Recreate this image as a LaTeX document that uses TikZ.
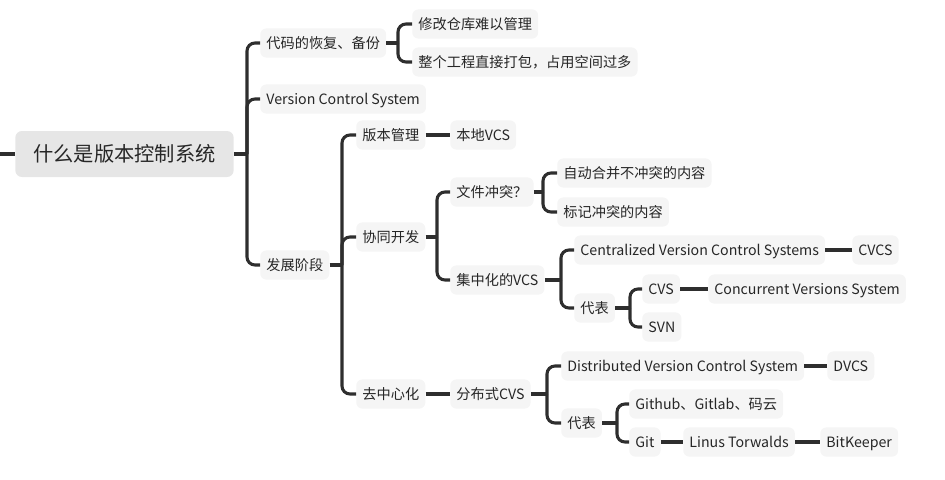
\documentclass[tikz,border=0pt]{standalone}
\usepackage{fontspec}
\setmainfont{Noto Sans CJK SC}
\definecolor{boxfill}{HTML}{F5F5F5}
\definecolor{rootfill}{HTML}{E6E6E6}
\definecolor{linecol}{HTML}{2E2E2E}
\definecolor{txtcol}{HTML}{262626}
\begin{document}
\begin{tikzpicture}[x=0.75pt,y=-0.75pt,
  box/.style={anchor=west,fill=boxfill,rounded corners=4.5pt,inner xsep=4.6pt,inner ysep=0pt,
    text height=9.4pt,text depth=1.9pt,
    minimum height=21.9pt,text=txtcol,font=\fontsize{10.65pt}{12pt}\selectfont},
  rootbox/.style={anchor=west,fill=rootfill,rounded corners=5pt,inner xsep=13.5pt,inner ysep=0pt,
    text height=13.2pt,text depth=2.6pt,
    minimum height=34.5pt,text=txtcol,font=\fontsize{15.2pt}{17pt}\selectfont},
  conn/.style={draw=linecol,line width=2.3pt,rounded corners=6pt}]
\useasboundingbox (0,0) rectangle (945,479);
% nodes
\node[rootbox] (root) at (15,154) {什么是版本控制系统};
\node[box] (n1) at (260,43) {代码的恢复、备份};
\node[box] (n2) at (260,99) {Version Control System};
\node[box] (n3) at (260,265) {发展阶段};
\node[box] (n11) at (412,24) {修改仓库难以管理};
\node[box] (n12) at (412,62) {整个工程直接打包，占用空间过多};
\node[box] (n31) at (356,135) {版本管理};
\node[box] (n311) at (450,135) {本地VCS};
\node[box] (n32) at (356,237) {协同开发};
\node[box] (n321) at (450,192) {文件冲突？};
\node[box] (n3211) at (557,173) {自动合并不冲突的内容};
\node[box] (n3212) at (557,212) {标记冲突的内容};
\node[box] (n322) at (450,280) {集中化的VCS};
\node[box] (n3221) at (574,250) {Centralized Version Control Systems};
\node[box] (n32211) at (852,250) {CVCS};
\node[box] (n3222) at (574,308) {代表};
\node[box] (n32221) at (642,289) {CVS};
\node[box] (n322211) at (708,289) {Concurrent Versions System};
\node[box] (n32222) at (642,327) {SVN};
\node[box] (n33) at (356,394) {去中心化};
\node[box] (n331) at (450,394) {分布式CVS};
\node[box] (n3311) at (561,366) {Distributed Version Control System};
\node[box] (n33111) at (827,366) {DVCS};
\node[box] (n3312) at (561,423) {代表};
\node[box] (n33121) at (629,404) {Github、Gitlab、码云};
\node[box] (n33122) at (629,442) {Git};
\node[box] (n331221) at (683,442) {Linus Torwalds};
\node[box] (n3312211) at (820,442) {BitKeeper};
% junctions
\coordinate (stub) at (0,154);
\coordinate (j0) at (247,154);
\coordinate (j1) at (398,43);
\coordinate (j3) at (342,265);
\coordinate (j32) at (437,237);
\coordinate (j321) at (543,192);
\coordinate (j322) at (561,280);
\coordinate (j3222) at (630,308);
\coordinate (j331) at (547,394);
\coordinate (j3312) at (617,423);
% connectors
\draw[conn] (stub) -- (root.west);
\draw[conn] (root.east) -- (j0);
\foreach \c in {n1,n2,n3} \draw[conn] (j0) |- (\c.west);
\draw[conn] (n1.east) -- (j1);
\foreach \c in {n11,n12} \draw[conn] (j1) |- (\c.west);
\draw[conn] (n3.east) -- (j3);
\foreach \c in {n31,n32,n33} \draw[conn] (j3) |- (\c.west);
\draw[conn] (n31.east) -- (n311.west);
\draw[conn] (n32.east) -- (j32);
\foreach \c in {n321,n322} \draw[conn] (j32) |- (\c.west);
\draw[conn] (n321.east) -- (j321);
\foreach \c in {n3211,n3212} \draw[conn] (j321) |- (\c.west);
\draw[conn] (n322.east) -- (j322);
\foreach \c in {n3221,n3222} \draw[conn] (j322) |- (\c.west);
\draw[conn] (n3221.east) -- (n32211.west);
\draw[conn] (n3222.east) -- (j3222);
\foreach \c in {n32221,n32222} \draw[conn] (j3222) |- (\c.west);
\draw[conn] (n32221.east) -- (n322211.west);
\draw[conn] (n33.east) -- (n331.west);
\draw[conn] (n331.east) -- (j331);
\foreach \c in {n3311,n3312} \draw[conn] (j331) |- (\c.west);
\draw[conn] (n3311.east) -- (n33111.west);
\draw[conn] (n3312.east) -- (j3312);
\foreach \c in {n33121,n33122} \draw[conn] (j3312) |- (\c.west);
\draw[conn] (n33122.east) -- (n331221.west);
\draw[conn] (n331221.east) -- (n3312211.west);
\end{tikzpicture}
\end{document}
